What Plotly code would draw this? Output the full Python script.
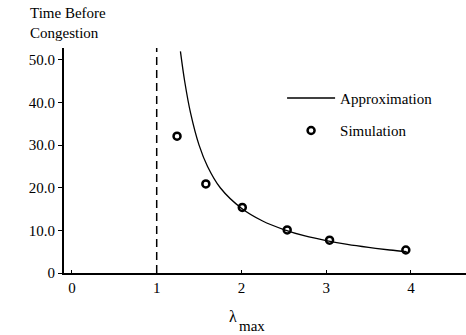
import plotly.graph_objects as go

# Approximation curve
approx_x = [1.28, 1.33, 1.40, 1.50, 1.60, 1.75, 2.00, 2.25, 2.50, 2.75, 3.00, 3.25, 3.50, 3.75, 3.95]
approx_y = [52.0, 45.0, 37.5, 30.0, 25.0, 20.0, 15.2, 12.2, 10.2, 8.7, 7.6, 6.7, 6.0, 5.4, 5.0]

# Simulation points
sim_x = [1.24, 1.58, 2.01, 2.54, 3.04, 3.94]
sim_y = [32.1, 20.9, 15.4, 10.1, 7.7, 5.4]

# Asymptote (dashed line)
asym_x = [1, 1]
asym_y = [0, 52.8]

x_ticks = [0, 1, 2, 3, 4]
x_labels = ["0", "1", "2", "3", "4"]
y_ticks = [0, 10, 20, 30, 40, 50]
y_labels = ["0", "10.0", "20.0", "30.0", "40.0", "50.0"]

FONT = "Liberation Serif, Times New Roman, serif"

fig = go.Figure()
fig.add_trace(go.Scatter(x=asym_x, y=asym_y, mode="lines",
                         line=dict(color="black", width=1.5, dash="8px,5px"),
                         showlegend=False, hoverinfo="skip"))
fig.add_trace(go.Scatter(x=approx_x, y=approx_y, mode="lines", name="Approximation",
                         line=dict(color="black", width=1.3, shape="spline"),
                         legendgroup="a"))
fig.add_trace(go.Scatter(x=sim_x, y=sim_y, mode="markers", name="Simulation",
                         marker=dict(symbol="circle-open", size=7, color="black",
                                     line=dict(width=2.5, color="black")),
                         legendgroup="b"))

fig.update_layout(
    width=466, height=335,
    margin=dict(l=64, r=0, t=48, b=62),
    plot_bgcolor="white", paper_bgcolor="white",
    font=dict(family=FONT, size=15, color="black"),
    showlegend=True,
    legend=dict(x=0.5425, y=0.85, xanchor="left", yanchor="top",
                bgcolor="rgba(0,0,0,0)", font=dict(size=15, family=FONT),
                tracegroupgap=10, itemwidth=48),
    xaxis=dict(range=[-0.094, 4.65], tickvals=x_ticks, ticktext=x_labels,
               showgrid=False, zeroline=False, showline=True, linecolor="black",
               linewidth=2, ticks="inside", ticklen=3, tickcolor="black",
               tickfont=dict(size=15)),
    yaxis=dict(range=[0, 52.8], tickvals=y_ticks, ticktext=y_labels,
               showgrid=False, zeroline=False, showline=True, linecolor="black",
               linewidth=2, ticks="outside", ticklen=4, tickcolor="black",
               tickfont=dict(size=15)),
    annotations=[
        dict(text="Time Before<br>Congestion", xref="paper", yref="paper",
             x=-0.09, y=1.0, yshift=45, xanchor="left", yanchor="top",
             showarrow=False, align="left", font=dict(size=15, family=FONT)),
        dict(text="λ", xref="paper", yref="paper", x=0.405, y=0, yshift=-43,
             xanchor="left", yanchor="middle", showarrow=False,
             font=dict(size=16, family=FONT)),
        dict(text="max", xref="paper", yref="paper", x=0.43, y=0, yshift=-53,
             xanchor="left", yanchor="middle", showarrow=False,
             font=dict(size=15, family=FONT)),
    ],
)

fig.write_html("out.html")
